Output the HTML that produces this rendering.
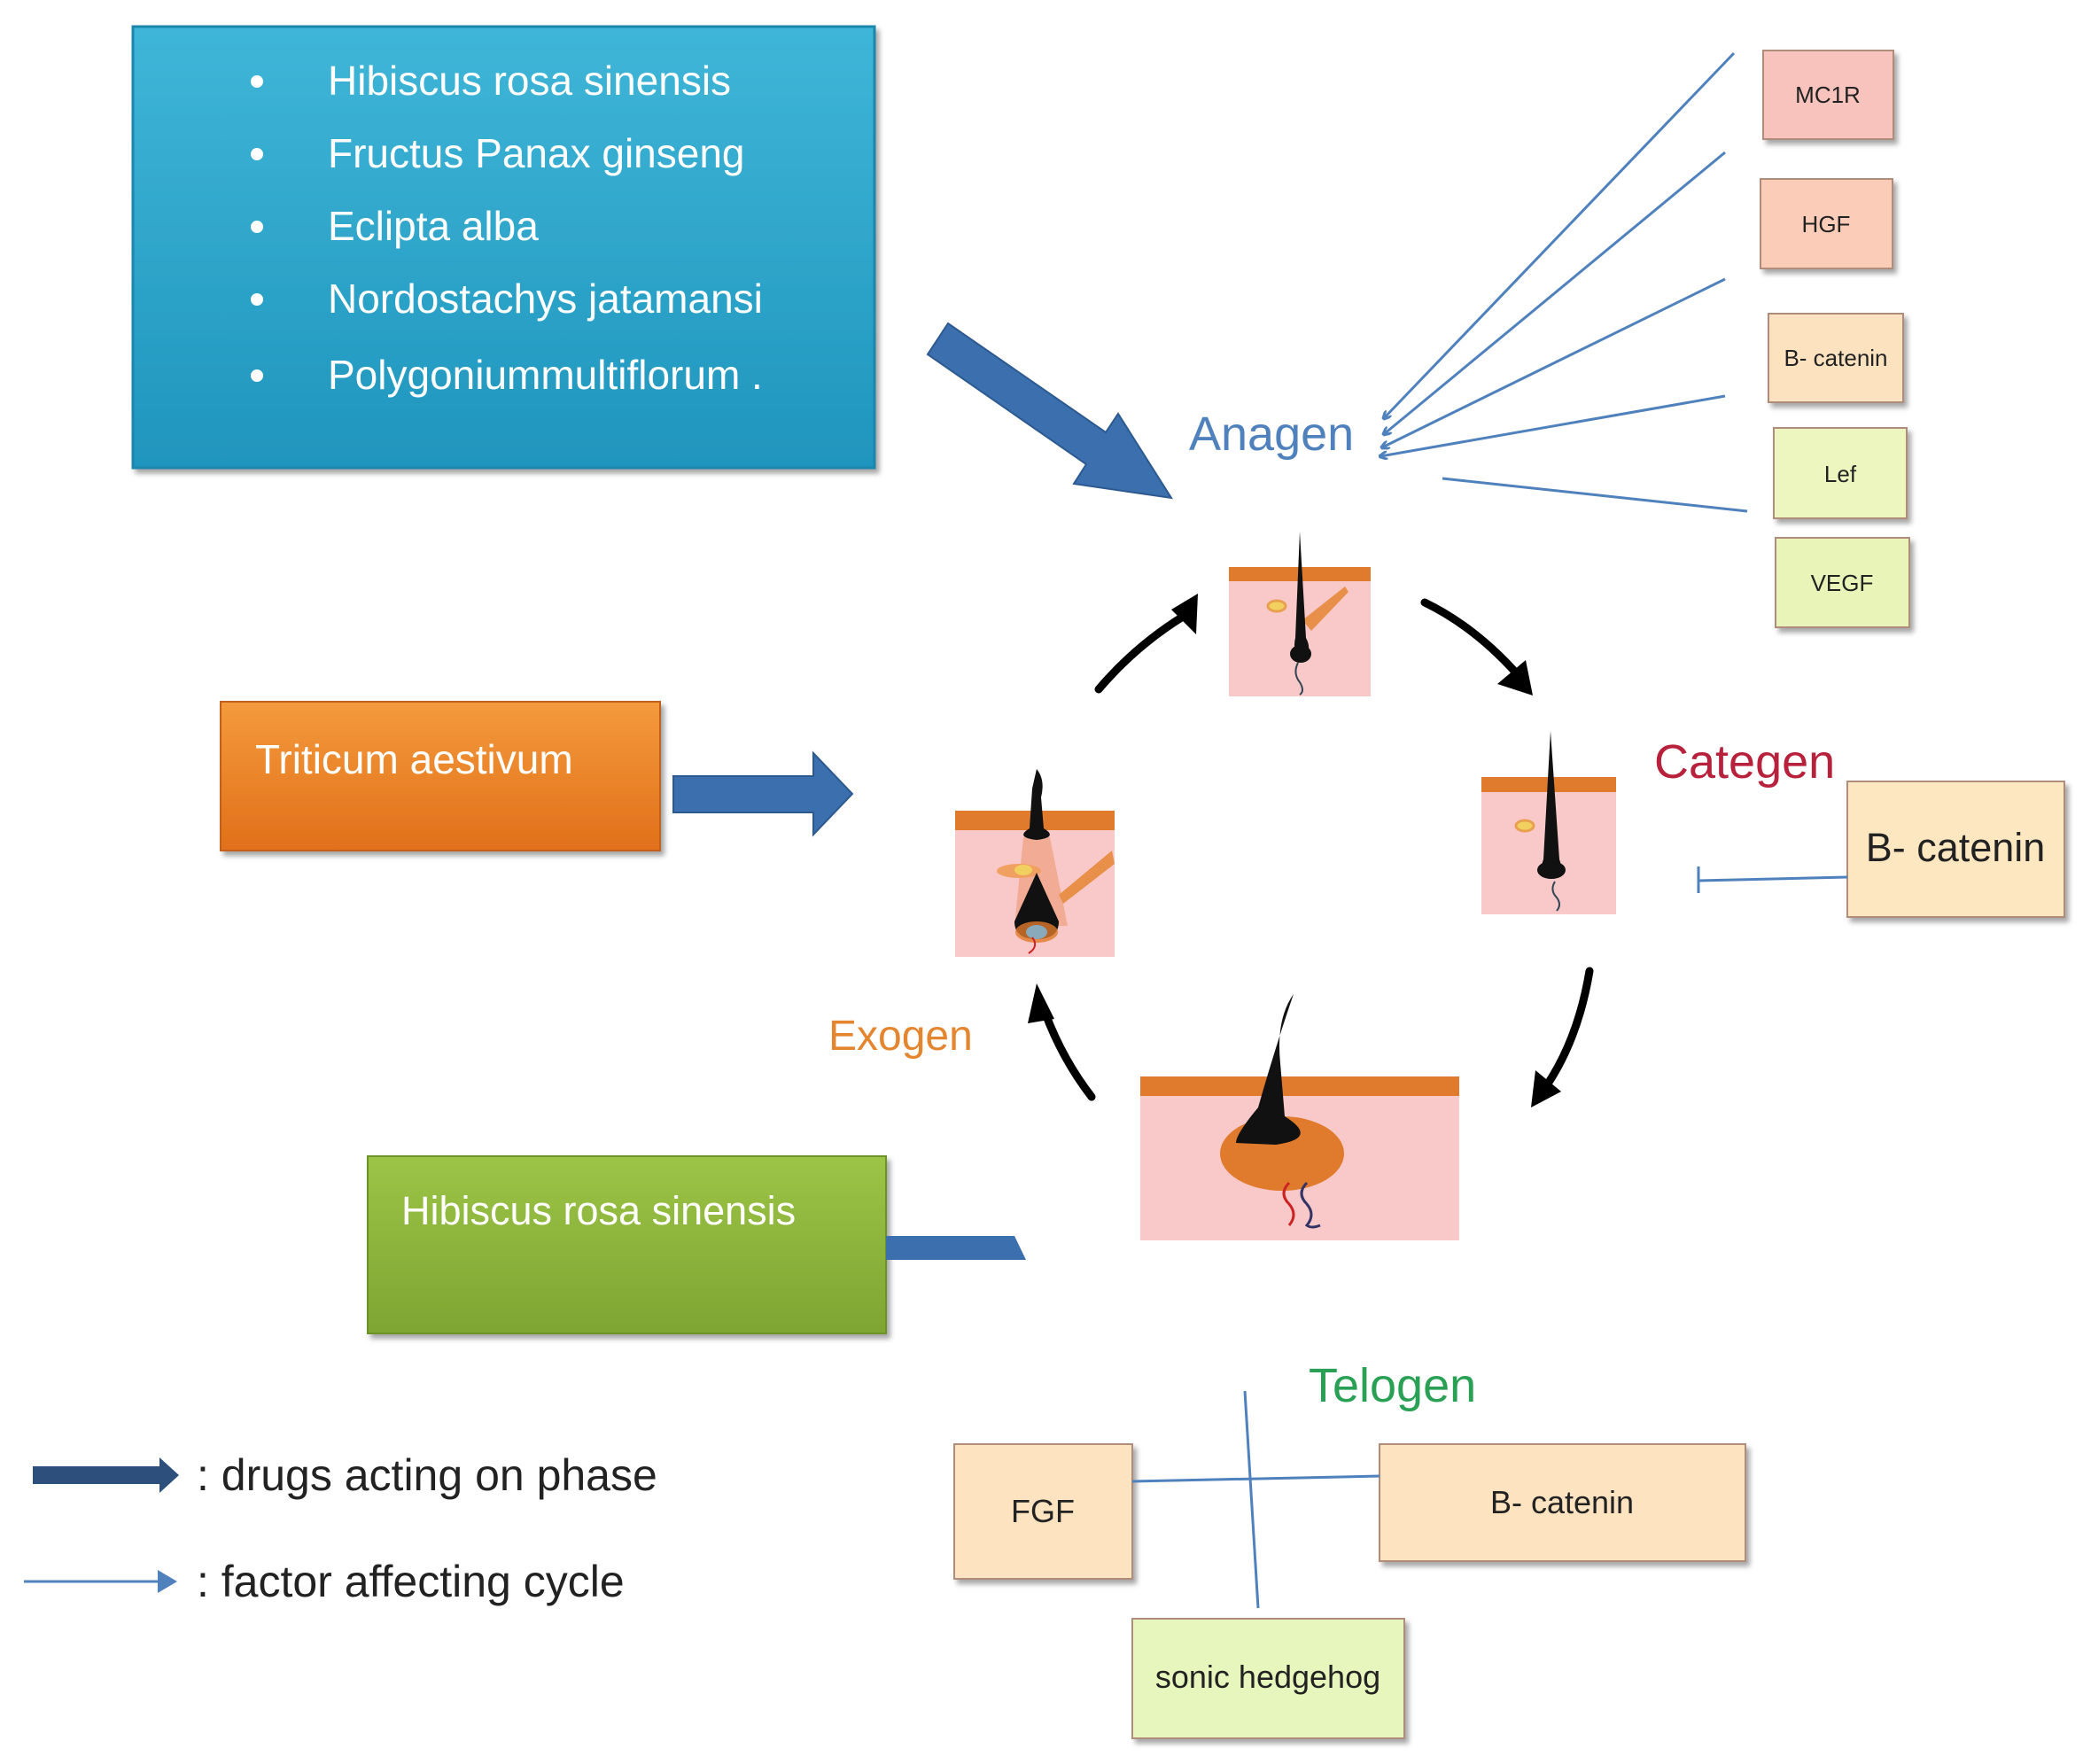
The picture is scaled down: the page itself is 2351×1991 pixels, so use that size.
<!DOCTYPE html>
<html><head><meta charset="utf-8"><style>
html,body{margin:0;padding:0;background:#fff;}
svg{display:block;}
text{font-family:"Liberation Sans",sans-serif;}
</style></head><body>
<svg width="2351" height="1991" viewBox="0 0 2351 1991" xmlns="http://www.w3.org/2000/svg">
<defs>
<linearGradient id="gb" x1="0" y1="0" x2="0" y2="1"><stop offset="0" stop-color="#3fb6d8"/><stop offset="1" stop-color="#1f95bd"/></linearGradient>
<linearGradient id="go" x1="0" y1="0" x2="0" y2="1"><stop offset="0" stop-color="#f49a3c"/><stop offset="1" stop-color="#e1701a"/></linearGradient>
<linearGradient id="gg" x1="0" y1="0" x2="0" y2="1"><stop offset="0" stop-color="#9cc446"/><stop offset="1" stop-color="#7ea532"/></linearGradient>
<filter id="sh" x="-10%" y="-10%" width="130%" height="130%"><feDropShadow dx="4" dy="5" stdDeviation="3" flood-color="#000" flood-opacity="0.35"/></filter>
<marker id="ah" markerWidth="10" markerHeight="10" refX="8" refY="5" orient="auto" markerUnits="userSpaceOnUse"><path d="M0,0 L10,5 L0,10" fill="none" stroke="#4f81bd" stroke-width="3"/></marker>
<marker id="bk" markerWidth="14" markerHeight="14" refX="9" refY="7" orient="auto" markerUnits="userSpaceOnUse"><path d="M0,0 L12,7 L0,14" fill="none" stroke="#000" stroke-width="4"/></marker>
</defs>

<!-- Top blue box -->
<rect x="150" y="30" width="837" height="498" fill="url(#gb)" stroke="#1a86ad" stroke-width="3" filter="url(#sh)"/>
<g fill="#fff" font-size="46">
<circle cx="290" cy="92" r="7"/><text x="370" y="107">Hibiscus rosa sinensis</text>
<circle cx="290" cy="174" r="7"/><text x="370" y="189">Fructus Panax ginseng</text>
<circle cx="290" cy="256" r="7"/><text x="370" y="271">Eclipta alba</text>
<circle cx="290" cy="338" r="7"/><text x="370" y="353">Nordostachys jatamansi</text>
<circle cx="290" cy="424" r="7"/><text x="370" y="439">Polygoniummultiflorum .</text>
</g>

<!-- big arrow to anagen -->
<polygon points="1070,365 1248,488 1262,467 1322,562 1212,546 1226,524 1047,400" fill="#3c6fad" stroke="#2c5a90" stroke-width="2"/>

<text x="1342" y="508" font-size="54" fill="#4f81bd">Anagen</text>

<!-- right factor boxes -->
<g stroke="#b08c7a" stroke-width="2" filter="url(#sh)">
<rect x="1990" y="57" width="147" height="100" fill="#f8c3bd"/>
<rect x="1987" y="202" width="149" height="101" fill="#fbcdb8"/>
<rect x="1996" y="354" width="152" height="100" fill="#fde2c0"/>
<rect x="2002" y="483" width="150" height="102" fill="#eef6c0"/>
<rect x="2004" y="607" width="151" height="101" fill="#e8f4b8"/>
</g>
<g font-size="26" fill="#222" text-anchor="middle">
<text x="2063" y="116">MC1R</text>
<text x="2061" y="262">HGF</text>
<text x="2072" y="413">B- catenin</text>
<text x="2077" y="544">Lef</text>
<text x="2079" y="667">VEGF</text>
</g>
<g stroke="#4f81bd" stroke-width="3" fill="none" marker-end="url(#ah)">
<line x1="1957" y1="60" x2="1562" y2="472"/>
<line x1="1947" y1="172" x2="1562" y2="490"/>
<line x1="1947" y1="315" x2="1560" y2="505"/>
<line x1="1947" y1="447" x2="1558" y2="515"/>
</g>
<line x1="1972" y1="577" x2="1628" y2="540" stroke="#4f81bd" stroke-width="3"/>

<!-- Follicles -->
<!-- top -->
<rect x="1387" y="640" width="160" height="146" fill="#f9c9c9"/>
<rect x="1387" y="640" width="160" height="16" fill="#e07a2c"/>
<ellipse cx="1441" cy="684" rx="10" ry="6" fill="#f2d060" stroke="#e8a050" stroke-width="3"/>
<path d="M1470,700 L1518,662 L1522,668 L1480,712Z" fill="#e8904a"/>
<path d="M1467,600 L1474,720 Q1482,735 1470,746 Q1458,735 1462,720Z" fill="#111"/>
<ellipse cx="1468" cy="738" rx="12" ry="10" fill="#111"/>
<path d="M1465,748 q-6,12 2,22 q6,10 0,14" stroke="#345" stroke-width="2" fill="none"/>
<!-- right -->
<rect x="1672" y="877" width="152" height="155" fill="#f9c9c9"/>
<rect x="1672" y="877" width="152" height="17" fill="#e07a2c"/>
<ellipse cx="1721" cy="932" rx="10" ry="6" fill="#f2d060" stroke="#e8a050" stroke-width="3"/>
<path d="M1750,825 L1760,970 Q1766,985 1750,990 Q1736,985 1742,970Z" fill="#111"/>
<ellipse cx="1751" cy="982" rx="16" ry="10" fill="#111"/>
<path d="M1755,995 q-6,10 2,18 q6,8 0,15" stroke="#345" stroke-width="2" fill="none"/>
<!-- left -->
<rect x="1078" y="915" width="180" height="165" fill="#f9c9c9"/>
<rect x="1078" y="915" width="180" height="22" fill="#e07a2c"/>
<path d="M1155,945 L1185,945 L1205,1045 L1145,1045Z" fill="#f0a080" opacity="0.7"/>
<ellipse cx="1150" cy="983" rx="25" ry="8" fill="#f0a060"/>
<ellipse cx="1155" cy="982" rx="10" ry="6" fill="#f2d060"/>
<path d="M1195,1010 L1255,960 L1258,975 L1200,1020Z" fill="#e8904a"/>
<path d="M1170,868 Q1180,880 1175,900 L1178,935 Q1195,945 1170,948 Q1145,945 1162,935 L1165,890Z" fill="#111"/>
<path d="M1170,985 L1195,1040 Q1195,1060 1170,1060 Q1145,1060 1145,1040Z" fill="#111"/>
<ellipse cx="1170" cy="1052" rx="24" ry="12" fill="#e07a2c" opacity="0.8"/>
<ellipse cx="1170" cy="1052" rx="12" ry="8" fill="#8ab"/>
<path d="M1165,1058 q8,10 -4,18" stroke="#c22" stroke-width="2" fill="none"/>
<!-- bottom -->
<rect x="1287" y="1215" width="360" height="185" fill="#f9c9c9"/>
<rect x="1287" y="1215" width="360" height="22" fill="#e07a2c"/>
<ellipse cx="1447" cy="1302" rx="70" ry="42" fill="#e07a2c"/>
<path d="M1460,1122 Q1440,1150 1445,1200 L1450,1260 Q1490,1285 1440,1292 L1395,1290 Q1395,1280 1420,1250 Q1440,1180 1460,1122Z" fill="#111"/>
<path d="M1455,1335 q-12,12 0,24 q10,12 0,24" stroke="#c22" stroke-width="3" fill="none"/>
<path d="M1475,1335 q-12,12 0,24 q10,12 0,24 q5,4 15,0" stroke="#336" stroke-width="3" fill="none"/>

<!-- cycle arrows -->
<g stroke="#000" stroke-width="9" fill="none" stroke-linecap="round">
<path d="M1240,778 Q1285,725 1345,690"/>
<path d="M1608,680 Q1670,710 1722,772"/>
<path d="M1794,1096 Q1780,1180 1738,1236"/>
<path d="M1232,1238 Q1195,1190 1175,1130"/>
</g>
<g fill="#000">
<polygon points="1352,670 1350,716 1322,688"/>
<polygon points="1730,785 1690,772 1722,745"/>
<polygon points="1728,1250 1733,1208 1762,1232"/>
<polygon points="1170,1110 1190,1150 1160,1155"/>
</g>

<text x="1867" y="878" font-size="54" fill="#b7213c">Categen</text>
<rect x="2085" y="882" width="245" height="153" fill="#fde7c0" stroke="#b08c7a" stroke-width="2" filter="url(#sh)"/>
<text x="2207" y="972" font-size="45" fill="#222" text-anchor="middle">B- catenin</text>
<line x1="2085" y1="990" x2="1917" y2="994" stroke="#4f81bd" stroke-width="3"/>
<line x1="1917" y1="978" x2="1917" y2="1008" stroke="#4f81bd" stroke-width="3"/>

<!-- Triticum -->
<rect x="249" y="792" width="496" height="168" fill="url(#go)" stroke="#c2611a" stroke-width="2" filter="url(#sh)"/>
<text x="288" y="873" font-size="46" fill="#fff">Triticum aestivum</text>
<polygon points="760,876 918,876 918,850 962,896 918,942 918,917 760,917" fill="#3c6fad" stroke="#2c5a90" stroke-width="2"/>

<text x="935" y="1185" font-size="48" fill="#e4852f">Exogen</text>

<!-- green box -->
<rect x="415" y="1305" width="585" height="200" fill="url(#gg)" stroke="#6d9228" stroke-width="2" filter="url(#sh)"/>
<text x="453" y="1382" font-size="45" fill="#fff">Hibiscus rosa sinensis</text>
<polygon points="1000,1395 1145,1395 1158,1422 1000,1422" fill="#3c6fad"/>

<text x="1477" y="1582" font-size="54" fill="#2aa055">Telogen</text>
<g stroke="#b08c7a" stroke-width="2" filter="url(#sh)">
<rect x="1077" y="1630" width="201" height="152" fill="#fde3c0"/>
<rect x="1557" y="1630" width="413" height="132" fill="#fde3c0"/>
<rect x="1278" y="1827" width="307" height="135" fill="#e6f6bc"/>
</g>
<g font-size="36" fill="#222" text-anchor="middle">
<text x="1177" y="1718">FGF</text>
<text x="1763" y="1708">B- catenin</text>
<text x="1431" y="1905">sonic hedgehog</text>
</g>
<line x1="1278" y1="1672" x2="1557" y2="1666" stroke="#4f81bd" stroke-width="3"/>
<line x1="1405" y1="1570" x2="1420" y2="1815" stroke="#4f81bd" stroke-width="3"/>

<!-- legend -->
<polygon points="37,1655 180,1655 180,1645 202,1665 180,1685 180,1675 37,1675" fill="#2c4f7c"/>
<text x="222" y="1682" font-size="50" fill="#222">: drugs acting on phase</text>
<line x1="27" y1="1785" x2="185" y2="1785" stroke="#4f81bd" stroke-width="3"/>
<polygon points="178,1772 200,1785 178,1798" fill="#4f81bd"/>
<text x="222" y="1802" font-size="50" fill="#222">: factor affecting cycle</text>
</svg>
</body></html>
